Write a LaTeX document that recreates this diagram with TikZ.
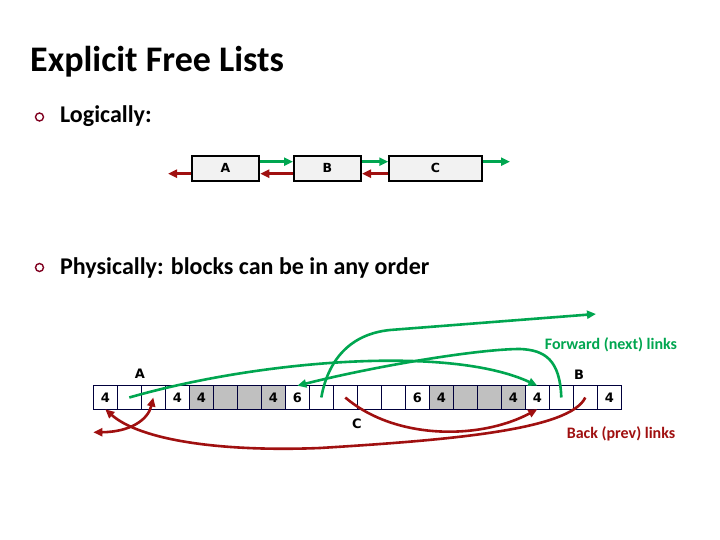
\documentclass[tikz,border=0pt]{standalone}
\usepackage{fontspec}
\setmainfont{Carlito}
\newfontfamily\vfont{DejaVu Sans}
\usetikzlibrary{arrows.meta}
\definecolor{fgreen}{RGB}{0,166,80}
\definecolor{bred}{RGB}{160,16,16}
\definecolor{bullred}{RGB}{128,0,32}
\definecolor{cellline}{RGB}{0,0,60}
\definecolor{cellgray}{RGB}{192,192,192}
\definecolor{boxfill}{RGB}{242,242,242}
\begin{document}
\begin{tikzpicture}[x=1pt,y=-1pt,
  cell/.style={draw=cellline, line width=0.8pt, minimum width=24pt, minimum height=23.6pt, inner sep=0pt, outer sep=0pt, font=\vfont\bfseries\fontsize{13}{13}\selectfont},
  lbox/.style={draw=black, fill=boxfill, line width=2pt, minimum height=25pt, inner sep=0pt, font=\vfont\bfseries\fontsize{12.5}{12.5}\selectfont},
  garrow/.style={draw=fgreen, line width=3pt, -{Triangle[length=9pt,width=8pt]}},
  rarrow/.style={draw=bred, line width=3pt, -{Triangle[length=9pt,width=8pt]}},
  glink/.style={draw=fgreen, line width=2.6pt, -{Triangle[length=9pt,width=8pt]}},
  rlink/.style={draw=bred, line width=2.6pt, -{Triangle[length=9pt,width=8pt]}},
  bullet/.style={circle, draw=bullred, line width=1.4pt, minimum size=8pt, inner sep=0pt},
  lbl/.style={font=\vfont\bfseries\fontsize{13}{13}\selectfont, inner sep=0pt},
  head/.style={anchor=base west, inner sep=0pt, font=\bfseries\fontsize{24}{24}\selectfont},
  linklbl/.style={font=\bfseries\fontsize{16}{16}\selectfont, inner sep=0pt}
]
\useasboundingbox[fill=white] (0,0) rectangle (720,540);

% title and bullets
\node[anchor=base west, inner sep=0pt, font=\bfseries\fontsize{36}{36}\selectfont] (title) at (30,72) {Explicit Free Lists};
\node[bullet] (b1) at (39.5,117) {};
\node[head] (t1) at (60,123) {Logically:};
\node[bullet] (b2) at (39.5,267.5) {};
\node[head] (t2) at (60,274) {Physically: blocks can be in any order};

% logical list
\node[lbox, minimum width=67.6pt] (LA) at (225.5,168.2) {A};
\node[lbox, minimum width=67pt] (LB) at (327.5,168.2) {B};
\node[lbox, minimum width=92.4pt] (LC) at (435.5,168.2) {C};
\coordinate (Lcend) at (510,161.7);
\coordinate (Laend) at (168,173.7);
\draw[garrow] ([yshift=6.5pt]LA.east) -- ([yshift=6.5pt]LB.west);
\draw[garrow] ([yshift=6.5pt]LB.east) -- ([yshift=6.5pt]LC.west);
\draw[garrow] ([yshift=6.5pt]LC.east) -- (Lcend);
\draw[rarrow] ([yshift=-5.5pt]LB.west) -- ([yshift=-5.5pt]LA.east);
\draw[rarrow] ([yshift=-5.5pt]LC.west) -- ([yshift=-5.5pt]LB.east);
\draw[rarrow] ([yshift=-5.5pt]LA.west) -- (Laend);

% memory cells
\foreach \i/\t/\f in {0/4/white,1//white,2//white,3/4/white,4/4/cellgray,5//cellgray,6//cellgray,7/4/cellgray,
  8/6/white,9//white,10//white,11//white,12//white,13/6/white,14/4/cellgray,15//cellgray,16//cellgray,17/4/cellgray,
  18/4/white,19//white,20//white,21/4/white}{
  \node[cell, fill=\f] (c\i) at ({105.3+24*\i},397.5) {\t};
}
\node[lbl] (lA) at (140,374) {A};
\node[lbl] (lB) at (579,375) {B};
\node[lbl] (lC) at (357,424) {C};
\node[linklbl, text=fgreen] (fwd) at (611,345) {Forward (next) links};
\node[linklbl, text=bred] (bck) at (621,434) {Back (prev) links};

% forward links
\coordinate (cnextend) at (596,314);
\coordinate (cbend) at (390,330);
\draw[glink] (c9.center) .. controls (328,360) and (350,334) .. (cbend) -- (cnextend);
\draw[glink] (c1.center) .. controls (260,360) and (450,345) .. (c18.north);
\coordinate (bpeak) at (520,349);
\draw[glink] (c19.center) .. controls (560,360) and (545,350) .. (bpeak) .. controls (480,349) and (380,365) .. (c8.north);

% back links
\coordinate (aprevend) at (93.3,432.3);
\draw[rlink] (c10.center) .. controls (395,440) and (480,440) .. (c18.south);
\coordinate (bbot) at (320,448);
\draw[rlink] (c20.center) .. controls (570,430) and (450,440) .. (bbot) .. controls (220,452) and (140,440) .. (c0.south);
\draw[draw=bred, line width=2.6pt, {Triangle[length=9pt,width=8pt]}-{Triangle[length=9pt,width=8pt]}] (aprevend) .. controls (130,432) and (148,420) .. (c2.center);
\end{tikzpicture}
\end{document}
